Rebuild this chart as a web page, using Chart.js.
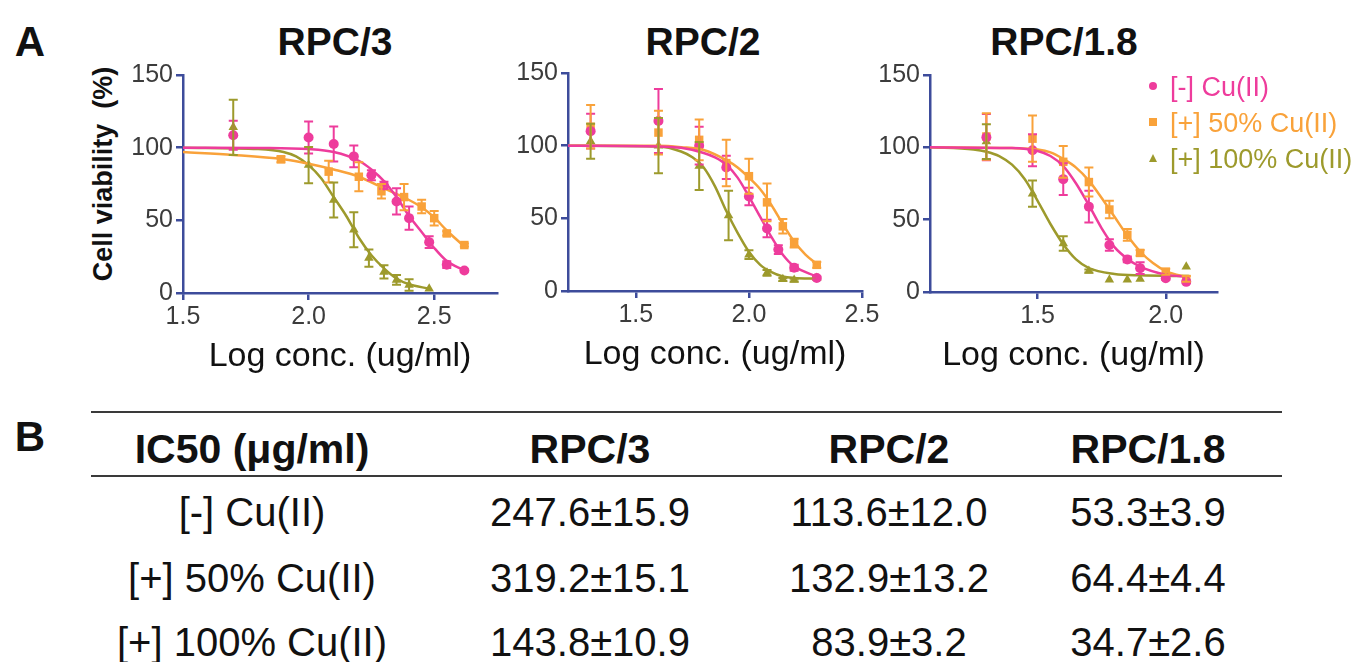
<!DOCTYPE html>
<html>
<head>
<meta charset="utf-8">
<script src="https://cdn.jsdelivr.net/npm/chart.js@4.4.1/dist/chart.umd.min.js"></script>
<style>
body { margin: 0; width: 1356px; height: 662px; background: #fff; position: relative; overflow: hidden; font-family: "Liberation Sans", Arial, sans-serif; color: #111; }
.box { position: absolute; }
.c { position: absolute; transform: translate(-50%, -50%); line-height: 1; white-space: nowrap; }
.big { font-weight: bold; font-size: 42px; }
.title { font-weight: bold; font-size: 39px; }
.ytitle { position: absolute; transform: translate(-50%, -50%) rotate(-90deg); font-weight: bold; font-size: 27px; line-height: 1; white-space: pre; }
.leg { position: absolute; font-size: 27px; line-height: 1; white-space: nowrap; transform: translateY(-50%); }
.mk { position: absolute; transform: translate(-50%, -50%); }
.rule { position: absolute; left: 91px; width: 1191px; height: 2px; background: #3a3a3a; }
.cell { position: absolute; transform: translate(-50%, -50%); line-height: 1; white-space: nowrap; font-size: 40px; color: #111; }
.hd { font-weight: bold; font-size: 41px; }
</style>
</head>
<body>
<div class="c big" style="left:30px;top:42px">A</div>
<div class="c big" style="left:30px;top:437px">B</div>
<div class="c title" style="left:335px;top:41px">RPC/3</div>
<div class="c title" style="left:703px;top:41px">RPC/2</div>
<div class="c title" style="left:1064px;top:41px">RPC/1.8</div>
<div class="ytitle" style="left:103px;top:174px">Cell viability  (%)</div>

<div class="box" style="left:83px;top:55px;width:444px;height:326px"><canvas id="p1"></canvas></div>
<div class="box" style="left:508px;top:53px;width:384px;height:326px"><canvas id="p2"></canvas></div>
<div class="box" style="left:870px;top:55px;width:377px;height:325px"><canvas id="p3"></canvas></div>

<div id="legend"></div>
<div id="table"></div>

<script>
// colours
const PINK = '#ee3c9c';
const ORANGE = '#f9a23a';
const OLIVE = '#9d9a2c';
const AXIS = '#3d4c9b';

const seriesNames = ['[-] Cu(II)', '[+] 50% Cu(II)', '[+] 100% Cu(II)'];

// RPC/3 (log conc, viability %, SD)
const rpc3NoCuX = [1.70, 2.00, 2.10, 2.18, 2.25, 2.30, 2.35, 2.40, 2.48, 2.55, 2.62];
const rpc3NoCuY = [108.5, 107, 102.5, 94, 81, 74, 63, 51.5, 35, 19.5, 15.5];
const rpc3NoCuErr = [10, 11, 12, 7.5, 3.5, 2.5, 9, 8, 4, 2.3, 0];
const rpc3HalfCuX = [1.89, 2.08, 2.20, 2.29, 2.38, 2.45, 2.50, 2.55, 2.62];
const rpc3HalfCuY = [92, 83.5, 80, 70, 66, 59.5, 51.5, 41, 33];
const rpc3HalfCuErr = [2, 7.5, 10, 5, 9, 4.6, 5, 1.5, 1];
const rpc3FullCuX = [1.70, 2.00, 2.10, 2.18, 2.24, 2.30, 2.35, 2.40, 2.48];
const rpc3FullCuY = [114, 88, 64, 43.5, 24, 14.5, 9, 5.5, 3];
const rpc3FullCuErr = [19, 12.5, 12, 12, 6, 4.6, 3.4, 4, 0];
const rpc3NoCuFitX = [1.5, 1.8, 2.0, 2.1, 2.2, 2.25, 2.3, 2.35, 2.4, 2.45, 2.5, 2.55, 2.62];
const rpc3NoCuFitY = [100, 99.8, 99, 97, 91, 85, 77, 66, 53, 42, 31, 22, 15.5];
const rpc3HalfCuFitX = [1.5, 1.7, 1.9, 2.0, 2.1, 2.2, 2.3, 2.4, 2.45, 2.5, 2.55, 2.62];
const rpc3HalfCuFitY = [97, 95, 92, 89, 85, 80, 72, 64, 59, 52, 43, 32];
const rpc3FullCuFitX = [1.5, 1.8, 1.9, 1.95, 2.0, 2.05, 2.1, 2.15, 2.2, 2.25, 2.3, 2.35, 2.4, 2.48];
const rpc3FullCuFitY = [100, 99, 97, 94, 88, 79, 66, 53, 38, 26, 17, 10, 6, 3];

// RPC/2
const rpc2NoCuX = [1.30, 1.60, 1.78, 1.90, 2.00, 2.08, 2.13, 2.20, 2.30];
const rpc2NoCuY = [110, 117, 100, 85, 65, 43, 28.5, 16, 9];
const rpc2NoCuErr = [12, 22, 13, 8, 6, 6, 3, 2, 1];
const rpc2HalfCuX = [1.30, 1.60, 1.78, 1.90, 2.00, 2.08, 2.15, 2.20, 2.30];
const rpc2HalfCuY = [113, 109, 104, 88, 79, 61, 44.5, 33, 18];
const rpc2HalfCuErr = [15, 15, 14, 16, 12, 13, 5, 3, 2];
const rpc2FullCuX = [1.30, 1.60, 1.78, 1.91, 2.00, 2.08, 2.15, 2.20, 2.30];
const rpc2FullCuY = [103, 100, 86, 52, 25, 12.5, 8, 7.5, 9];
const rpc2FullCuErr = [12, 19, 16.5, 17, 3, 2, 1, 1, 0];
const rpc2NoCuFitX = [1.2, 1.6, 1.7, 1.8, 1.85, 1.9, 1.95, 2.0, 2.05, 2.1, 2.15, 2.2, 2.3];
const rpc2NoCuFitY = [100, 99.5, 98.5, 95, 92, 87, 78, 65, 51, 37, 25, 17, 10];
const rpc2HalfCuFitX = [1.2, 1.6, 1.7, 1.8, 1.9, 1.95, 2.0, 2.05, 2.1, 2.15, 2.2, 2.25, 2.3];
const rpc2HalfCuFitY = [100, 100, 99, 97, 90, 85, 78, 70, 59, 46, 34, 25, 18.5];
const rpc2FullCuFitX = [1.2, 1.6, 1.7, 1.75, 1.8, 1.85, 1.9, 1.95, 2.0, 2.05, 2.1, 2.15, 2.2, 2.3];
const rpc2FullCuFitY = [100, 99.5, 96, 92, 85, 72, 55, 40, 27, 18, 13, 10, 9, 8.5];

// RPC/1.8
const rpc18NoCuX = [1.30, 1.48, 1.60, 1.70, 1.78, 1.85, 1.90, 2.00, 2.08];
const rpc18NoCuY = [107, 98, 78, 59, 32.5, 22.5, 16.5, 9.5, 7];
const rpc18NoCuErr = [16, 11, 11, 11, 4, 2, 4, 1, 1];
const rpc18HalfCuX = [1.30, 1.48, 1.60, 1.70, 1.78, 1.85, 1.90, 2.00, 2.08];
const rpc18HalfCuY = [107.5, 106, 90, 76, 57, 39.5, 27, 14, 9];
const rpc18HalfCuErr = [16, 16, 11, 10, 6, 4, 2, 2, 2];
const rpc18FullCuX = [1.30, 1.48, 1.60, 1.70, 1.78, 1.85, 1.90, 2.08];
const rpc18FullCuY = [104, 68, 33.5, 14.5, 8.5, 8.5, 9, 17.5];
const rpc18FullCuErr = [12, 9, 5, 1, 0, 0, 0, 0];
const rpc18NoCuFitX = [1.08, 1.4, 1.5, 1.55, 1.6, 1.65, 1.7, 1.75, 1.8, 1.85, 1.9, 2.0, 2.09];
const rpc18NoCuFitY = [100, 99.5, 97.5, 94, 87, 75, 60, 44, 31, 23, 17.5, 12, 10.5];
const rpc18HalfCuFitX = [1.08, 1.4, 1.5, 1.55, 1.6, 1.65, 1.7, 1.75, 1.8, 1.85, 1.9, 1.95, 2.0, 2.09];
const rpc18HalfCuFitY = [100, 99.5, 98.5, 96.5, 92, 86, 77, 65, 52, 39, 28, 20, 14.5, 10];
const rpc18FullCuFitX = [1.08, 1.25, 1.3, 1.35, 1.4, 1.45, 1.5, 1.55, 1.6, 1.65, 1.7, 1.8, 1.9, 2.09];
const rpc18FullCuFitY = [100, 98.5, 97, 94, 88, 78, 63, 47, 33, 22.5, 16.5, 12.5, 11.5, 11];

// axis ticks
const yTicks = [0, 50, 100, 150];
const rpc3XTicks = [1.5, 2.0, 2.5];
const rpc2XTicks = [1.5, 2.0, 2.5];
const rpc18XTicks = [1.5, 2.0];

// IC50 table
const tableHeader = ['IC50 (μg/ml)', 'RPC/3', 'RPC/2', 'RPC/1.8'];
const ic50NoCu = ['247.6±15.9', '113.6±12.0', '53.3±3.9'];
const ic50HalfCu = ['319.2±15.1', '132.9±13.2', '64.4±4.4'];
const ic50FullCu = ['143.8±10.9', '83.9±3.2', '34.7±2.6'];

const zip = (xs, ys) => xs.map((x, i) => ({ x: x, y: ys[i] }));

const errorBars = {
    id: 'errorBars',
    afterDatasetsDraw(chart) {
        const ctx = chart.ctx;
        const ys = chart.scales.y;
        chart.data.datasets.forEach((ds, i) => {
            if (!ds.errors) return;
            const meta = chart.getDatasetMeta(i);
            ctx.save();
            ctx.strokeStyle = ds.borderColor;
            ctx.lineWidth = 2;
            meta.data.forEach((pt, j) => {
                const e = ds.errors[j];
                if (!e) return;
                const top = ys.getPixelForValue(ds.data[j].y + e);
                const bot = ys.getPixelForValue(ds.data[j].y - e);
                ctx.beginPath();
                ctx.moveTo(pt.x, top); ctx.lineTo(pt.x, bot);
                ctx.moveTo(pt.x - 4.5, top); ctx.lineTo(pt.x + 4.5, top);
                ctx.moveTo(pt.x - 4.5, bot); ctx.lineTo(pt.x + 4.5, bot);
                ctx.stroke();
            });
            ctx.restore();
        });
    }
};

function curve(xs, ys, color) {
    return { type: 'scatter', data: zip(xs, ys), showLine: true, borderColor: color, borderWidth: 2.5,
             pointRadius: 0, cubicInterpolationMode: 'monotone', clip: false };
}

function points(xs, ys, errs, color, style, r) {
    return { type: 'scatter', data: zip(xs, ys), errors: errs, borderColor: color, backgroundColor: color,
             pointStyle: style, pointRadius: r, pointBorderWidth: 0, clip: false };
}

function drawPanel(id, p) {
    new Chart(document.getElementById(id), {
        type: 'scatter',
        data: {
            datasets: [
                curve(p.fits[0][0], p.fits[0][1], PINK),
                curve(p.fits[1][0], p.fits[1][1], ORANGE),
                curve(p.fits[2][0], p.fits[2][1], OLIVE),
                points(p.pts[0][0], p.pts[0][1], p.pts[0][2], PINK, 'circle', 5),
                points(p.pts[1][0], p.pts[1][1], p.pts[1][2], ORANGE, 'rect', 6),
                points(p.pts[2][0], p.pts[2][1], p.pts[2][2], OLIVE, 'triangle', 5.5)
            ]
        },
        options: {
            responsive: true, maintainAspectRatio: false, animation: false,
            layout: { padding: { top: 20, right: 30, left: 0, bottom: 0 } },
            plugins: { legend: { display: false }, tooltip: { enabled: false } },
            scales: {
                x: {
                    type: 'linear', min: p.xMin, max: p.xMax,
                    afterBuildTicks: s => { s.ticks = p.xTicks.map(v => ({ value: v })); },
                    afterFit: s => { s.height = 88; },
                    border: { color: AXIS, width: 2.5 },
                    grid: { drawOnChartArea: false, drawTicks: true, tickLength: 7, color: AXIS, lineWidth: 2.5 },
                    ticks: { color: '#3c3c3c', font: { size: 25, family: 'Liberation Sans' }, padding: 2,
                             maxRotation: 0, callback: v => v.toFixed(1) },
                    title: { display: true, text: 'Log conc. (ug/ml)', color: '#111',
                             font: { size: 34, family: 'Liberation Sans' }, padding: { top: 0, bottom: 4 } }
                },
                y: {
                    min: 0, max: 150,
                    afterBuildTicks: s => { s.ticks = yTicks.map(v => ({ value: v })); },
                    afterFit: s => { s.width = p.yWidth; },
                    border: { color: AXIS, width: 2.5 },
                    grid: { drawOnChartArea: false, drawTicks: true, tickLength: 7, color: AXIS, lineWidth: 2.5 },
                    ticks: { color: '#3c3c3c', font: { size: 25, family: 'Liberation Sans' }, padding: 3 }
                }
            }
        },
        plugins: [errorBars]
    });
}

drawPanel('p1', {
    xMin: 1.5, xMax: 2.75, xTicks: rpc3XTicks, yWidth: 100,
    fits: [[rpc3NoCuFitX, rpc3NoCuFitY], [rpc3HalfCuFitX, rpc3HalfCuFitY], [rpc3FullCuFitX, rpc3FullCuFitY]],
    pts: [[rpc3NoCuX, rpc3NoCuY, rpc3NoCuErr], [rpc3HalfCuX, rpc3HalfCuY, rpc3HalfCuErr], [rpc3FullCuX, rpc3FullCuY, rpc3FullCuErr]]
});
drawPanel('p2', {
    xMin: 1.2, xMax: 2.5, xTicks: rpc2XTicks, yWidth: 60,
    fits: [[rpc2NoCuFitX, rpc2NoCuFitY], [rpc2HalfCuFitX, rpc2HalfCuFitY], [rpc2FullCuFitX, rpc2FullCuFitY]],
    pts: [[rpc2NoCuX, rpc2NoCuY, rpc2NoCuErr], [rpc2HalfCuX, rpc2HalfCuY, rpc2HalfCuErr], [rpc2FullCuX, rpc2FullCuY, rpc2FullCuErr]]
});
drawPanel('p3', {
    xMin: 1.08, xMax: 2.2, xTicks: rpc18XTicks, yWidth: 60,
    fits: [[rpc18NoCuFitX, rpc18NoCuFitY], [rpc18HalfCuFitX, rpc18HalfCuFitY], [rpc18FullCuFitX, rpc18FullCuFitY]],
    pts: [[rpc18NoCuX, rpc18NoCuY, rpc18NoCuErr], [rpc18HalfCuX, rpc18HalfCuY, rpc18HalfCuErr], [rpc18FullCuX, rpc18FullCuY, rpc18FullCuErr]]
});

// legend (HTML, right of RPC/1.8)
const legColors = [PINK, ORANGE, OLIVE];
const legMarks = [
    'width:8px;height:8px;border-radius:50%;',
    'width:8px;height:8px;',
    'width:0;height:0;border-left:4.5px solid transparent;border-right:4.5px solid transparent;'
];
const legend = document.getElementById('legend');
seriesNames.forEach((name, i) => {
    const y = 86 + i * 36;
    const m = document.createElement('div');
    m.className = 'mk';
    m.style.cssText = 'left:1153px;top:' + y + 'px;' + legMarks[i] +
        (i === 2 ? 'border-bottom:8px solid ' + OLIVE + ';' : 'background:' + legColors[i] + ';');
    legend.appendChild(m);
    const t = document.createElement('div');
    t.className = 'leg';
    t.style.cssText = 'left:1170px;top:' + (y + 1) + 'px;color:' + legColors[i];
    t.textContent = name;
    legend.appendChild(t);
});

// IC50 table
const table = document.getElementById('table');
const colX = [252, 590, 889, 1148];
const rowY = [449, 512, 578, 642];
[412, 476].forEach(y => {
    const r = document.createElement('div');
    r.className = 'rule';
    r.style.top = (y - 1) + 'px';
    table.appendChild(r);
});
function cell(text, x, y, bold) {
    const d = document.createElement('div');
    d.className = bold ? 'cell hd' : 'cell';
    d.style.left = x + 'px';
    d.style.top = y + 'px';
    d.textContent = text;
    table.appendChild(d);
}
tableHeader.forEach((h, i) => cell(h, colX[i], rowY[0], true));
[ic50NoCu, ic50HalfCu, ic50FullCu].forEach((row, r) => {
    cell(seriesNames[r], colX[0], rowY[r + 1], false);
    row.forEach((v, i) => cell(v, colX[i + 1], rowY[r + 1], false));
});
</script>
</body>
</html>
